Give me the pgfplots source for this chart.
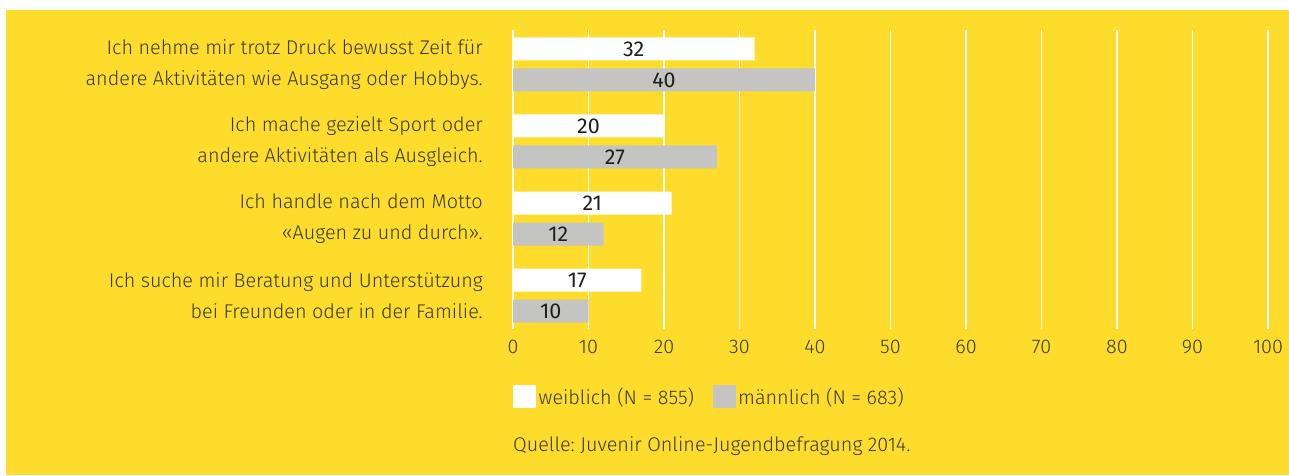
\documentclass[border=0pt]{standalone}
\usepackage{fontspec}
\setmainfont{Fira Sans Light}
\newfontfamily\numfont{Fira Sans}
\usepackage{pgfplots}
\pgfplotsset{compat=1.18}
\definecolor{bgyellow}{HTML}{FDDC2C}
\definecolor{bargray}{HTML}{C4C4C2}
\definecolor{txt}{HTML}{3A382E}
\newcommand{\fs}{\fontsize{19.8bp}{31bp}\selectfont}
\newcommand{\fn}{\fontsize{21.5bp}{24bp}\selectfont}
\frenchspacing
\begin{document}
\begin{tikzpicture}
\path[use as bounding box] (0,0) rectangle (1289bp,476bp);
\fill[bgyellow] (6bp,1bp) rectangle (1289bp,466bp);
\begin{axis}[
  at={(513bp,147bp)}, anchor=south west,
  scale only axis, width=755bp, height=299bp,
  xmin=0, xmax=100, ymin=-0.448, ymax=3.435,
  y dir=reverse,
  axis line style={draw=none},
  major tick length=0pt,
  xtick={0,10,...,100},
  ytick={0,1,2,3},
  yticklabels={{Ich nehme mir trotz Druck bewusst Zeit für\\andere Aktivitäten wie Ausgang oder Hobbys.},
               {Ich mache gezielt Sport oder\\andere Aktivitäten als Ausgleich.},
               {Ich handle nach dem Motto\\«Augen zu und durch».},
               {Ich suche mir Beratung und Unterstützung\\bei Freunden oder in der Familie.}},
  yticklabel style={align=right, font=\fs, text=txt, inner sep=0pt, xshift=-30bp},
  xticklabel style={font=\fs, text=txt, inner sep=0pt, yshift=-11bp},
  /pgf/number format/assume math mode=true,
  xmajorgrids, grid style={white, line width=1.6bp},
  ymajorgrids=false,
  xbar, bar width=23bp,
  nodes near coords,
  visualization depends on=x \as \rawx,
  every node near coord/.append style={anchor=center, font=\numfont\fn, text=black!88, shift={(axis direction cs:-\rawx/2,0)}},
  legend style={at={(0,-0.2274)}, anchor=west, draw=none, fill=none, inner sep=0pt, font=\fs, text=txt,
     nodes={inner sep=2.5bp},
     /tikz/every even column/.append style={column sep=16bp}},
  legend columns=2,
  legend cell align=left,
]
\addplot[fill=white, draw=none, bar shift=15.5bp,
  legend image code/.code={\fill[white] (0bp,-11.5bp) rectangle (23bp,11.5bp);}]
  coordinates {(32,0) (20,1) (21,2) (17,3)};
\addplot[fill=bargray, draw=none, bar shift=-15.5bp,
  legend image code/.code={\fill[bargray] (0bp,-11.5bp) rectangle (23bp,11.5bp);}]
  coordinates {(40,0) (27,1) (12,2) (10,3)};
\legend{weiblich (N = 855), männlich (N = 683)}
\end{axis}
\node[anchor=base west, inner sep=0pt, font=\fs, text=txt] at (513bp,24.5bp) {Quelle: Juvenir Online-Jugendbefragung 2014.};
\end{tikzpicture}
\end{document}
